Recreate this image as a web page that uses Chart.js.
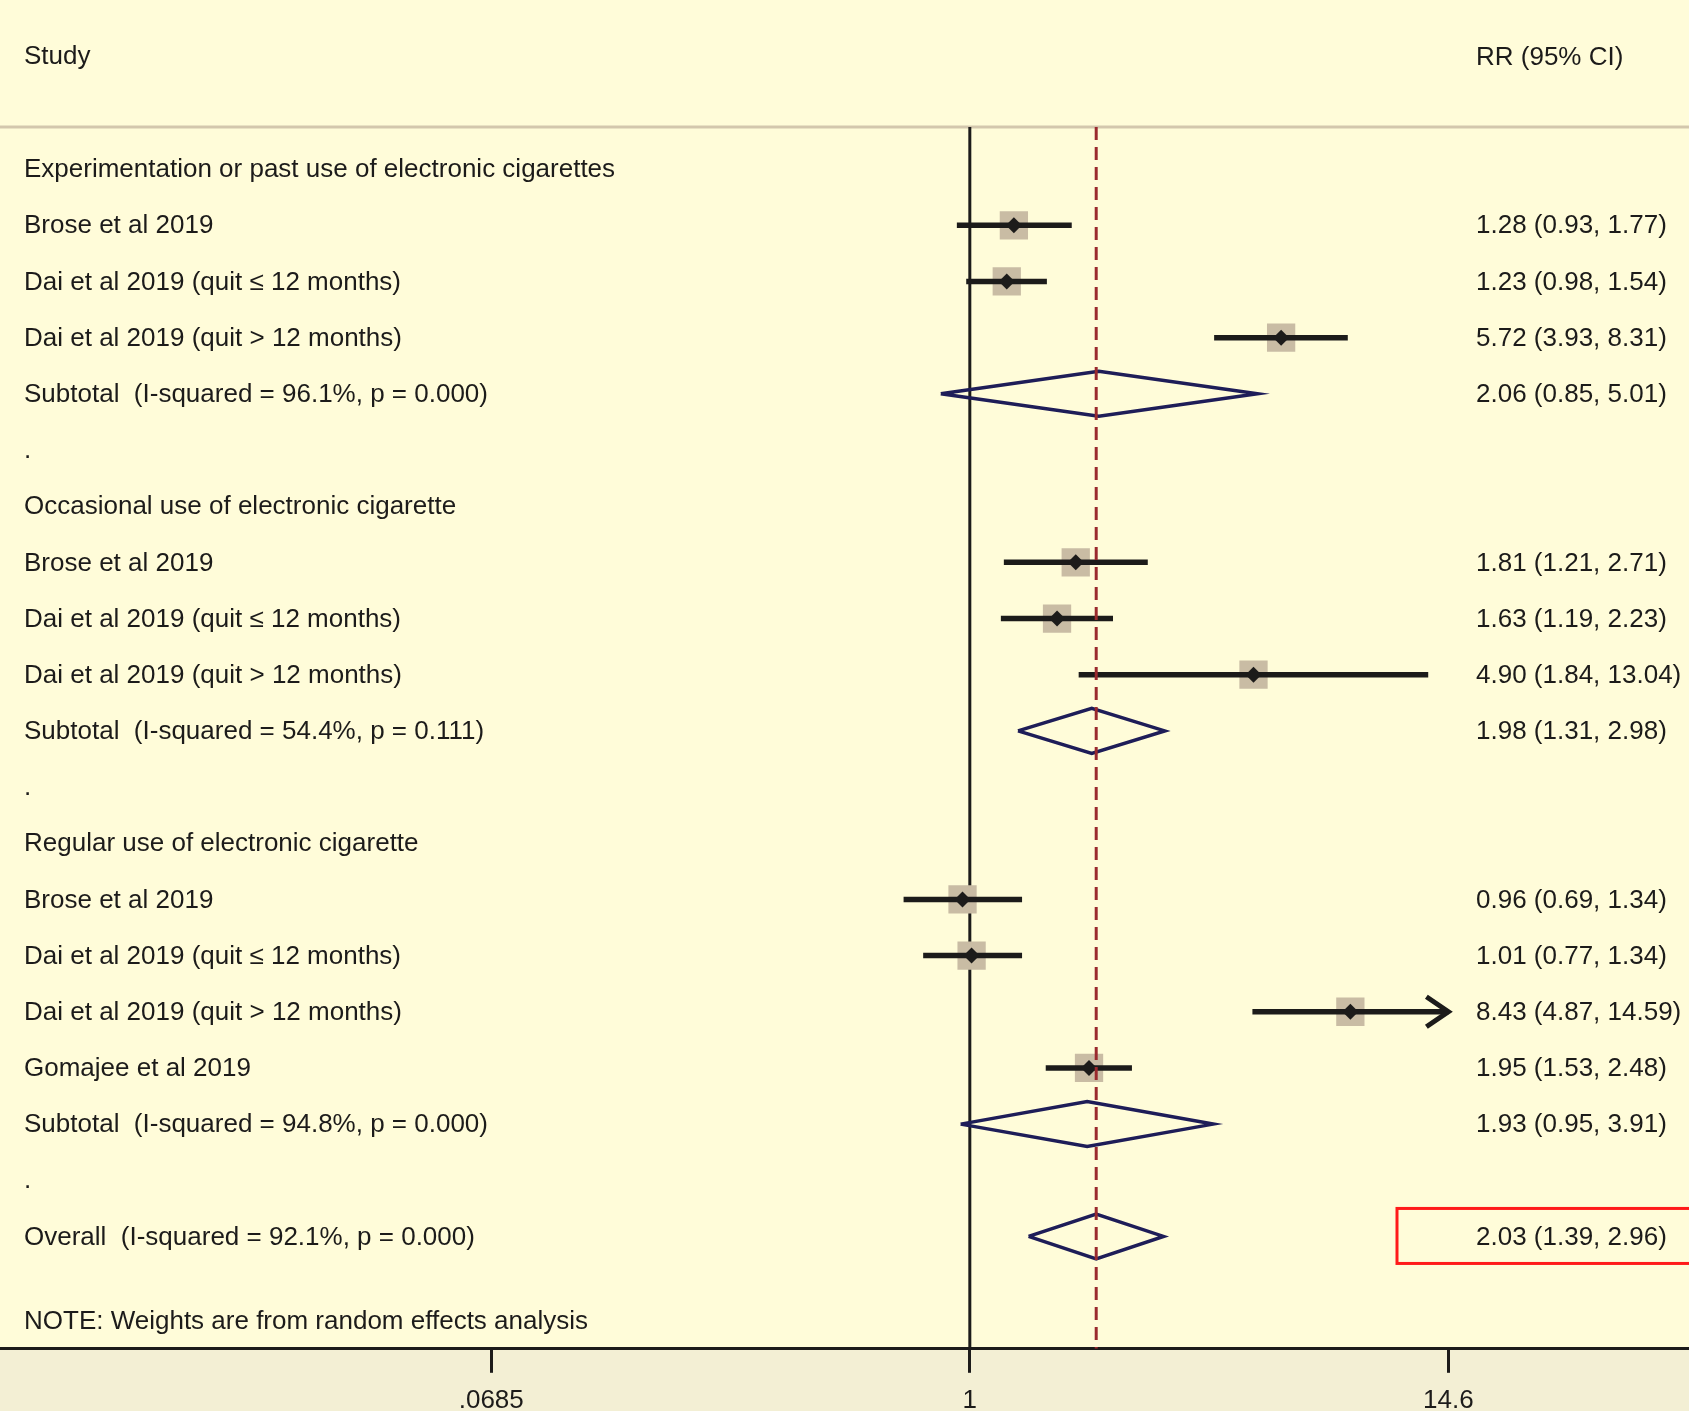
<!DOCTYPE html>
<html>
<head>
<meta charset="utf-8">
<script src="https://cdn.jsdelivr.net/npm/chart.js@4.4.1/dist/chart.umd.min.js"></script>
<style>
  html, body { margin: 0; padding: 0; width: 1689px; height: 1411px; overflow: hidden; background: #fffcd9; }
  #wrap { position: absolute; left: 0; top: 0; width: 1689px; height: 1428px; }
</style>
</head>
<body>
<div id="wrap"><canvas id="forestChart"></canvas></div>
<script>
// Forest plot: RR of smoking relapse by e-cigarette use (random effects)

const rowLabels = [
    'Experimentation or past use of electronic cigarettes',
    'Brose et al 2019',
    'Dai et al 2019 (quit \u2264 12 months)',
    'Dai et al 2019 (quit > 12 months)',
    'Subtotal  (I-squared = 96.1%, p = 0.000)',
    '.',
    'Occasional use of electronic cigarette',
    'Brose et al 2019',
    'Dai et al 2019 (quit \u2264 12 months)',
    'Dai et al 2019 (quit > 12 months)',
    'Subtotal  (I-squared = 54.4%, p = 0.111)',
    '.',
    'Regular use of electronic cigarette',
    'Brose et al 2019',
    'Dai et al 2019 (quit \u2264 12 months)',
    'Dai et al 2019 (quit > 12 months)',
    'Gomajee et al 2019',
    'Subtotal  (I-squared = 94.8%, p = 0.000)',
    '.',
    'Overall  (I-squared = 92.1%, p = 0.000)'
];

const studyRows = [1, 2, 3, 7, 8, 9, 13, 14, 15, 16];
const studyRR   = [1.28, 1.23, 5.72, 1.81, 1.63, 4.90, 0.96, 1.01, 8.43, 1.95];
const studyLo   = [0.93, 0.98, 3.93, 1.21, 1.19, 1.84, 0.69, 0.77, 4.87, 1.53];
const studyHi   = [1.77, 1.54, 8.31, 2.71, 2.23, 13.04, 1.34, 1.34, 14.59, 2.48];

const pooledRows = [4, 10, 17, 19];
const pooledRR   = [2.06, 1.98, 1.93, 2.03];
const pooledLo   = [0.85, 1.31, 0.95, 1.39];
const pooledHi   = [5.01, 2.98, 3.91, 2.96];

const overallRR = 2.03;
const arrowRows = [15];          // CI runs past the axis end -> arrow
const xTicks = [0.0685, 1, 14.6];
const xTickLabels = ['.0685', '1', '14.6'];
const noteText = 'NOTE: Weights are from random effects analysis';
const noteRow = 20.5;

const FONT = '"Liberation Sans", Arial, sans-serif';
const TEXT_SIZE = 26;
const INK = '#1c1b1a';

const fmt = (v) => v.toFixed(2);
const ciText = {};
studyRows.forEach((r, i) => { ciText[r] = `${fmt(studyRR[i])} (${fmt(studyLo[i])}, ${fmt(studyHi[i])})`; });
pooledRows.forEach((r, i) => { ciText[r] = `${fmt(pooledRR[i])} (${fmt(pooledLo[i])}, ${fmt(pooledHi[i])})`; });

const axisEnd = xTicks[xTicks.length - 1];

// CI segments, broken with nulls
const ciData = [];
studyRows.forEach((r, i) => {
    ciData.push({ x: studyLo[i], y: r }, { x: Math.min(studyHi[i], axisEnd), y: r }, { x: null, y: null });
});

// pooled diamonds as closed outlines
const DIAMOND_H = 0.4;
const diamondData = [];
pooledRows.forEach((r, i) => {
    diamondData.push(
        { x: pooledLo[i], y: r },
        { x: pooledRR[i], y: r - DIAMOND_H },
        { x: pooledHi[i], y: r },
        { x: pooledRR[i], y: r + DIAMOND_H },
        { x: pooledLo[i], y: r },
        { x: null, y: null }
    );
});

const Y_MIN = -0.75, Y_MAX = 21;

const forestDecor = {
    id: 'forestDecor',
    beforeDraw(chart) {
        const { ctx, chartArea: a, width, height } = chart;
        ctx.save();
        ctx.fillStyle = '#fffcd9';
        ctx.fillRect(0, 0, width, height);
        ctx.fillStyle = '#f3efd4';
        ctx.fillRect(0, a.bottom, width, height - a.bottom);
        ctx.strokeStyle = '#d3c7ad';
        ctx.lineWidth = 3;
        ctx.beginPath();
        ctx.moveTo(0, a.top);
        ctx.lineTo(width, a.top);
        ctx.stroke();
        ctx.restore();
    },
    afterDatasetsDraw(chart) {
        const { ctx } = chart;
        const xs = chart.scales.x, ys = chart.scales.y;
        ctx.save();

        // arrow heads
        ctx.strokeStyle = INK;
        ctx.lineWidth = 5;
        arrowRows.forEach((r) => {
            const tip = xs.getPixelForValue(axisEnd);
            const y = ys.getPixelForValue(r);
            ctx.beginPath();
            ctx.moveTo(tip - 22, y - 15);
            ctx.lineTo(tip, y);
            ctx.lineTo(tip - 22, y + 15);
            ctx.stroke();
        });

        ctx.fillStyle = INK;
        ctx.font = `${TEXT_SIZE}px ${FONT}`;
        ctx.textBaseline = 'middle';
        ctx.textAlign = 'left';
        ctx.fillText('Study', 24, 57);
        ctx.fillText('RR (95% CI)', 1476, 58);
        rowLabels.forEach((t, r) => {
            const y = ys.getPixelForValue(r) + 1;
            ctx.fillText(t, 24, y);
            if (ciText[r]) ctx.fillText(ciText[r], 1476, y);
        });
        ctx.fillText(noteText, 24, ys.getPixelForValue(noteRow) + 1);

        // highlight box around the overall estimate
        const yo = ys.getPixelForValue(pooledRows[pooledRows.length - 1]);
        ctx.strokeStyle = '#ff1a1a';
        ctx.lineWidth = 3;
        ctx.strokeRect(1397, yo - 28, 320, 55);
        ctx.restore();
    }
};

new Chart(document.getElementById('forestChart'), {
    type: 'scatter',
    data: {
        datasets: [
            {   // overall effect reference line
                data: [{ x: overallRR, y: Y_MIN }, { x: overallRR, y: Y_MAX }],
                showLine: true, borderColor: '#9a2a2e', borderWidth: 3, borderDash: [13, 7],
                pointRadius: 0
            },
            {   // point estimates
                data: studyRows.map((r, i) => ({ x: studyRR[i], y: r })),
                pointStyle: 'rectRot', pointRadius: 8, backgroundColor: INK, borderWidth: 0
            },
            {   // confidence intervals
                data: ciData,
                showLine: true, spanGaps: false, borderColor: INK, borderWidth: 5.5,
                pointRadius: 0
            },
            {   // weight boxes
                data: studyRows.map((r, i) => ({ x: studyRR[i], y: r })),
                pointStyle: 'rect', pointRadius: 20, backgroundColor: '#c9bca4', borderWidth: 0
            },
            {   // pooled diamonds
                data: diamondData,
                showLine: true, spanGaps: false, borderColor: '#1e1d58', borderWidth: 3.5,
                pointRadius: 0, fill: false
            },
            {   // null line
                data: [{ x: 1, y: Y_MIN }, { x: 1, y: Y_MAX }],
                showLine: true, borderColor: INK, borderWidth: 3, pointRadius: 0
            }
        ]
    },
    options: {
        responsive: true,
        maintainAspectRatio: false,
        animation: false,
        layout: { autoPadding: false, padding: { top: 127, left: 0, right: 0, bottom: 0 } },
        plugins: { legend: { display: false }, tooltip: { enabled: false } },
        scales: {
            x: {
                type: 'logarithmic',
                min: 0.00437,
                max: 56.2,
                afterBuildTicks: (scale) => { scale.ticks = xTicks.map((v) => ({ value: v })); },
                ticks: {
                    callback: (v, i) => xTickLabels[i],
                    font: { family: FONT, size: TEXT_SIZE },
                    color: INK, padding: 12, maxRotation: 0, autoSkip: false
                },
                grid: { drawOnChartArea: false, drawTicks: true, tickLength: 24, tickWidth: 3, tickColor: INK },
                border: { display: true, color: INK, width: 3 }
            },
            y: { type: 'linear', display: false, reverse: true, min: Y_MIN, max: Y_MAX }
        }
    },
    plugins: [forestDecor]
});
</script>
</body>
</html>
